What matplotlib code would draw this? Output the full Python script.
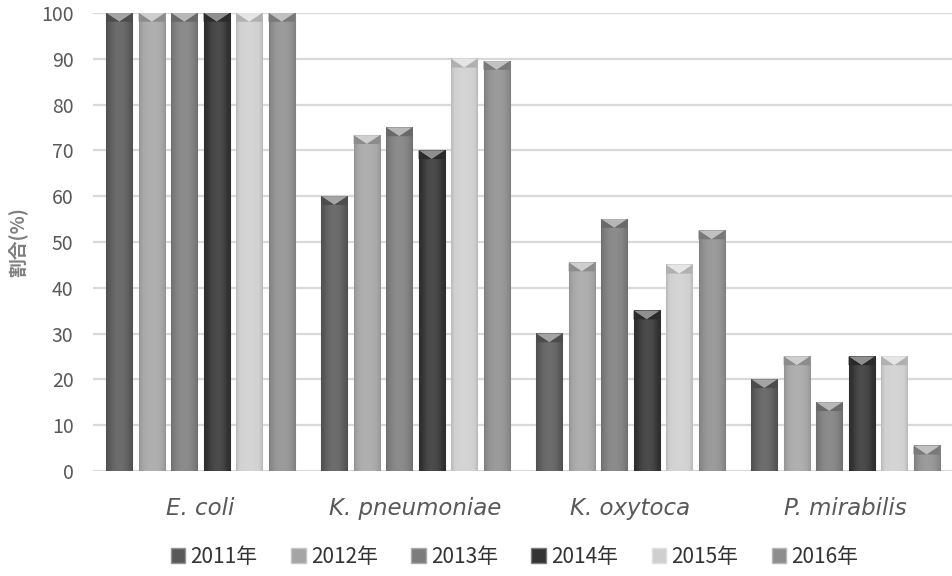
import matplotlib.pyplot as plt
import matplotlib.colors as mcolors
from matplotlib.patches import Polygon, Patch
import numpy as np

plt.rcParams['font.family'] = ['Noto Sans CJK JP', 'DejaVu Sans']

categories = ['E. coli', 'K. pneumoniae', 'K. oxytoca', 'P. mirabilis']
years = ['2011年', '2012年', '2013年', '2014年', '2015年', '2016年']
values = {
    '2011年': [100, 60, 30, 20],
    '2012年': [100, 73.3, 45.5, 25],
    '2013年': [100, 75, 55, 15],
    '2014年': [100, 70, 35, 25],
    '2015年': [100, 90, 45, 25],
    '2016年': [100, 89.5, 52.5, 5.5],
}
colors = ['#595959', '#a5a5a5', '#7c7c7c', '#333333', '#cfcfcf', '#8e8e8e']


def shade(c, f):
    r = np.array(mcolors.to_rgb(c))
    if f > 0:
        return tuple(r + (1 - r) * f)
    return tuple(r * (1 + f))


fig = plt.figure(figsize=(9.53, 5.76), dpi=100)
ax = fig.add_axes([0.0976, 0.1823, 0.9024, 0.7951])

x = np.arange(len(categories))
step = 0.151
width = 0.122
bevel = 1.9

for i, yr in enumerate(years):
    pos = x + (i - 2.5) * step
    bars = ax.bar(pos, values[yr], width, color=colors[i],
                  edgecolor=shade(colors[i], 0.35), linewidth=0.8, zorder=3)
    for b in bars:
        x0, w, h = b.get_x(), b.get_width(), b.get_height()
        x1, xc = x0 + w, x0 + w / 2
        # horizontal shading across the bar
        g = np.linspace(-1, 1, 40)
        prof = 0.12 * np.cos(g * np.pi / 2) - 0.10 * np.abs(g) ** 3
        img = np.array([[shade(colors[i], p) for p in prof]])
        ax.imshow(img, extent=(x0, x1, 0, h), aspect='auto', zorder=3.5,
                  interpolation='bilinear')
        # bevelled top
        d = min(bevel, h * 0.45)
        ax.add_patch(Polygon([(x0, h), (x1, h), (xc, h - d)],
                             closed=True, color=shade(colors[i], 0.45), lw=0, zorder=4))
        ax.add_patch(Polygon([(x0, h), (xc, h - d), (x0, h - d)],
                             closed=True, color=shade(colors[i], -0.15), lw=0, zorder=4))
        ax.add_patch(Polygon([(x1, h), (xc, h - d), (x1, h - d)],
                             closed=True, color=shade(colors[i], -0.15), lw=0, zorder=4))

ax.set_xlim(-0.5, 3.5)
ax.set_ylim(0, 100)
ax.set_yticks(np.arange(0, 101, 10))
ax.yaxis.grid(True, color='#d9d9d9', linewidth=1.6, zorder=0)
ax.set_axisbelow(True)
for s in ax.spines.values():
    s.set_visible(False)
ax.tick_params(axis='both', length=0, colors='#595959', labelsize=14)
ax.tick_params(axis='y', pad=14)
ax.set_xticks(x)
ax.set_xticklabels(categories, fontstyle='italic', fontsize=16.5,
                   family=['DejaVu Sans'], color='#595959')
ax.tick_params(axis='x', pad=19)
ax.set_ylabel('割合(%)', fontsize=13.5, fontweight='bold', color='#7f7f7f', labelpad=10)

handles = [Patch(facecolor=c, edgecolor=shade(c, 0.35), label=y) for c, y in zip(colors, years)]
fig.legend(handles=handles, loc='center', bbox_to_anchor=(0.54, 0.033), ncol=6,
           frameon=False, fontsize=15, handlelength=0.7, handleheight=0.7,
           handletextpad=0.25, columnspacing=1.6, labelcolor='#333333')

fig.savefig('out.png', dpi=100)
